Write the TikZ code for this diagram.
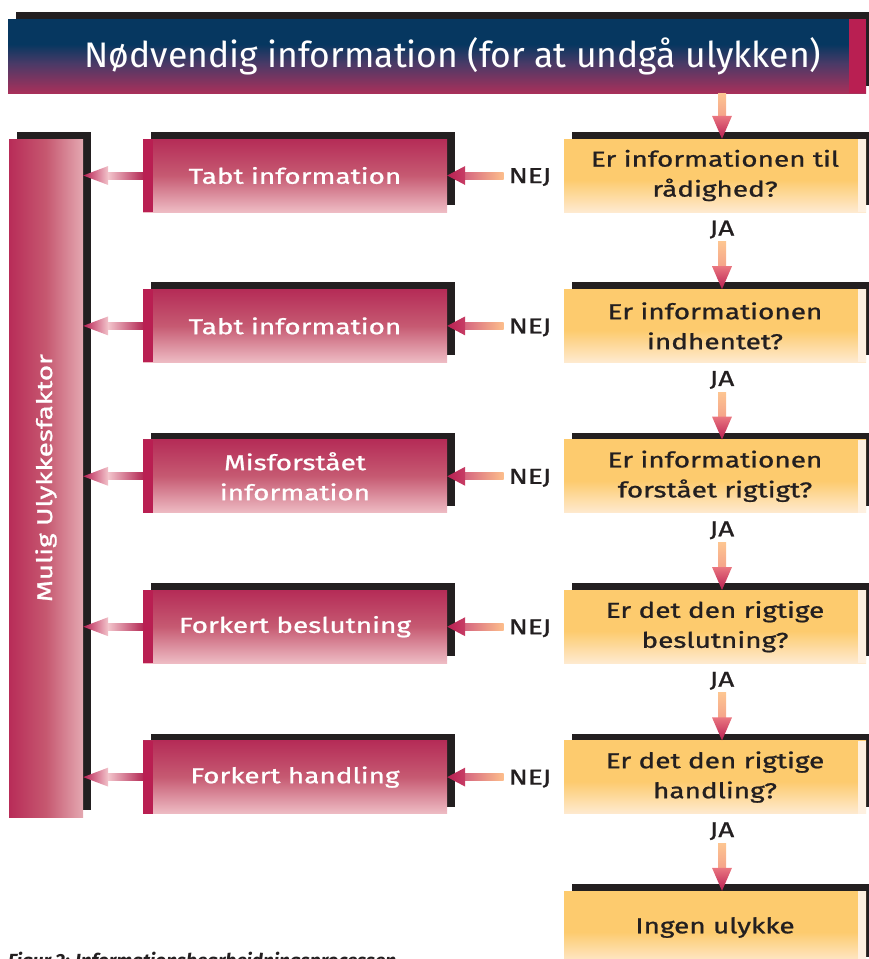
\documentclass[tikz,border=0pt]{standalone}
\usepackage{fontspec}
\usepackage{graphicx}
\setmainfont{Fira Sans}
\newfontfamily\titelfont{Fira Sans}
\newfontfamily\boksfont[FakeStretch=1.3, FakeBold=1]{Fira Sans}
\usetikzlibrary{calc,shadows,positioning}

\definecolor{skyggesort}{HTML}{231F20}
\definecolor{titeltop}{HTML}{063760}
\definecolor{titelmidt}{HTML}{4A3A67}
\definecolor{titelbund}{HTML}{A8305A}
\definecolor{magstribe}{HTML}{B91F52}
\definecolor{gultop}{HTML}{FDCB6E}
\definecolor{gulbund}{HTML}{FEEAD0}
\definecolor{creme}{HTML}{FEF0E0}
\definecolor{rodtop}{HTML}{B52C57}
\definecolor{rodmidt}{HTML}{C65A72}
\definecolor{rodbund}{HTML}{EEBCC4}
\definecolor{barvenstre}{HTML}{B82C58}
\definecolor{barmidt}{HTML}{C65870}
\definecolor{barhoejre}{HTML}{E4A8B1}
\definecolor{pillys}{HTML}{FDC591}
\definecolor{pillaks}{HTML}{F5A48A}
\definecolor{pilrosa}{HTML}{EA7680}
\definecolor{pilorange}{HTML}{FDBE8C}
\definecolor{pilpink}{HTML}{D66880}
\definecolor{pilrod}{HTML}{C73E65}
\definecolor{lyserod}{HTML}{F2C4CB}

\pgfdeclareverticalshading{titelfade}{100bp}{color(0bp)=(titelbund); color(25bp)=(titelbund); color(45bp)=(titelmidt); color(58bp)=(titeltop); color(100bp)=(titeltop)}
\pgfdeclareverticalshading{gulfade}{100bp}{color(0bp)=(gulbund); color(25bp)=(gulbund); color(47bp)=(gultop); color(100bp)=(gultop)}

\tikzset{
  skygge/.style = {general shadow={shadow xshift=8pt, shadow yshift=7pt, fill=skyggesort}},
  titel/.style  = {skygge, shading=titelfade, minimum width=858pt, minimum height=74pt,
                   inner sep=0pt, text=white, font=\titelfont\fontsize{35.5}{40}\selectfont,
                   path picture={\fill[magstribe] ([xshift=-17pt]path picture bounding box.north east)
                     rectangle (path picture bounding box.south east);}},
  spm/.style    = {skygge, shading=gulfade, minimum width=302pt, minimum height=73pt,
                   inner sep=0pt, align=center, text=skyggesort,
                   font=\boksfont\fontsize{21.5}{30}\selectfont,
                   path picture={\fill[creme] ([xshift=-8pt]path picture bounding box.north east)
                     rectangle (path picture bounding box.south east);}},
  fejl/.style   = {skygge, top color=rodtop, bottom color=rodbund, middle color=rodmidt,
                   minimum width=304pt, minimum height=73pt, inner sep=0pt, align=center,
                   text=white, font=\boksfont\fontsize{21.5}{30}\selectfont,
                   path picture={\fill[magstribe] (path picture bounding box.north west)
                     rectangle ([xshift=10pt]path picture bounding box.south west);}},
  faktor/.style = {skygge, left color=barvenstre, right color=barhoejre, middle color=barmidt,
                   minimum width=74pt, minimum height=678pt, inner sep=0pt, text=white,
                   font=\boksfont\fontsize{21.5}{30}\selectfont},
  svar/.style   = {text=skyggesort, font=\boksfont\fontsize{21.5}{30}\selectfont,
                   text height=15pt, text depth=0pt, inner xsep=5pt, inner ysep=6pt}
}

% pil nedad: fra, spids
\newcommand\nedpil[2]{%
  \shade[top color=pillys, bottom color=pillaks] ($(#1)+(-4,0)$) rectangle ($(#2)+(4,-23)$);
  \shade[top color=pilrosa, bottom color=magstribe] ($(#2)+(-10,-23)$) -- ($(#2)+(10,-23)$) -- (#2) -- cycle;
}
% pil mod venstre: fra, spids, farve ved fra, farve ved hoved, hovedbasis, spids, hovedlaengde
\newcommand\vpil[7]{%
  \shade[left color=#4, right color=#3] ($(#1)+(0,-3.5)$) rectangle ($(#2)+(#7,3.5)$);
  \shade[left color=#6, right color=#5] (#2) -- ($(#2)+(#7,-9.5)$) -- ($(#2)+(#7,9.5)$) -- cycle;
}

\begin{document}
\begin{tikzpicture}[x=1pt, y=-1pt]
  \useasboundingbox (0,0) rectangle (869,959);

  \node[titel] (titel) at (437,56) {\hspace*{32pt}Nødvendig information (for at undgå ulykken)};
  \node[faktor] (faktor) at (46,478) {\rotatebox{90}{Mulig Ulykkesfaktor}};

  % spoergsmaal
  \node[spm] (spm1) at (715,175.5) {Er informationen til\\rådighed?};
  \node[spm] (spm2) at (715,325.9) {Er informationen\\indhentet?};
  \node[spm] (spm3) at (715,476.3) {Er informationen\\forstået rigtigt?};
  \node[spm] (spm4) at (715,626.7) {Er det den rigtige\\beslutning?};
  \node[spm] (spm5) at (715,777.1) {Er det den rigtige\\handling?};
  \node[spm] (spm6) at (715,927.5) {Ingen ulykke};

  % fejl
  \node[fejl] (fejl1) at (295,175.5) {Tabt information};
  \node[fejl] (fejl2) at (295,325.9) {Tabt information};
  \node[fejl] (fejl3) at (295,476.3) {Misforstået\\information};
  \node[fejl] (fejl4) at (295,626.7) {Forkert beslutning};
  \node[fejl] (fejl5) at (295,777.1) {Forkert handling};

  % svar
  \node[svar] (nej1) at (530,175.5) {NEJ};
  \node[svar] (nej2) at (530,325.9) {NEJ};
  \node[svar] (nej3) at (530,476.3) {NEJ};
  \node[svar] (nej4) at (530,626.7) {NEJ};
  \node[svar] (nej5) at (530,777.1) {NEJ};
  \node[svar] (ja1) at (722,228) {JA};
  \node[svar] (ja2) at (722,378.4) {JA};
  \node[svar] (ja3) at (722,528.8) {JA};
  \node[svar] (ja4) at (722,679.2) {JA};
  \node[svar] (ja5) at (722,829.6) {JA};

  \nedpil{titel.south -| ja1}{spm1.north -| ja1}
  \nedpil{ja1.south}{spm2.north -| ja1}
  \nedpil{ja2.south}{spm3.north -| ja2}
  \nedpil{ja3.south}{spm4.north -| ja3}
  \nedpil{ja4.south}{spm5.north -| ja4}
  \nedpil{ja5.south}{spm6.north -| ja5}

  \vpil{nej1.west}{nej1.west -| fejl1.east}{pilorange}{pilpink}{pilrod}{magstribe}{18}
  \vpil{nej2.west}{nej2.west -| fejl2.east}{pilorange}{pilpink}{pilrod}{magstribe}{18}
  \vpil{nej3.west}{nej3.west -| fejl3.east}{pilorange}{pilpink}{pilrod}{magstribe}{18}
  \vpil{nej4.west}{nej4.west -| fejl4.east}{pilorange}{pilpink}{pilrod}{magstribe}{18}
  \vpil{nej5.west}{nej5.west -| fejl5.east}{pilorange}{pilpink}{pilrod}{magstribe}{18}

  \vpil{fejl1.west}{fejl1.west -| faktor.east}{rodtop}{lyserod}{lyserod}{magstribe}{25}
  \vpil{fejl2.west}{fejl2.west -| faktor.east}{rodtop}{lyserod}{lyserod}{magstribe}{25}
  \vpil{fejl3.west}{fejl3.west -| faktor.east}{rodtop}{lyserod}{lyserod}{magstribe}{25}
  \vpil{fejl4.west}{fejl4.west -| faktor.east}{rodtop}{lyserod}{lyserod}{magstribe}{25}
  \vpil{fejl5.west}{fejl5.west -| faktor.east}{rodtop}{lyserod}{lyserod}{magstribe}{25}

  \node[anchor=base west, inner sep=0pt, text=skyggesort,
        font=\bfseries\itshape\fontsize{19}{22}\selectfont] (figurtekst) at (8,967)
        {Figur 2: Informationsbearbejdningsprocessen};
\end{tikzpicture}
\end{document}
